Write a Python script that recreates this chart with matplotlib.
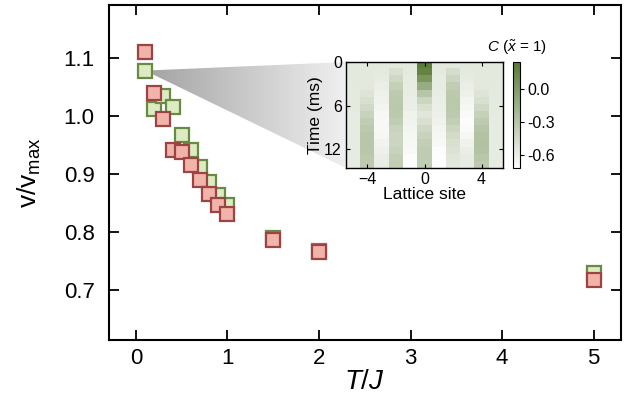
#!/usr/bin/env python3
"""Velocity vs temperature with inset correlation map."""

import numpy as np
import matplotlib
matplotlib.use("Agg")
import matplotlib.pyplot as plt
from matplotlib.colors import LinearSegmentedColormap
from matplotlib.patches import Polygon

plt.rcParams['font.family'] = ['Liberation Sans', 'DejaVu Sans']
plt.rcParams['mathtext.fontset'] = 'custom'
plt.rcParams['mathtext.rm'] = 'Liberation Sans'
plt.rcParams['mathtext.it'] = 'Liberation Sans:italic'

# main data: T/J and v/v_max for the two data sets
T_vals = [0.1, 0.2, 0.3, 0.4, 0.5, 0.6, 0.7, 0.8, 0.9, 1.0, 1.5, 2.0, 5.0]
v_green = [1.078, 1.012, 1.035, 1.015, 0.967, 0.941, 0.912, 0.886, 0.864, 0.846, 0.789, 0.767, 0.730]
v_red = [1.110, 1.039, 0.995, 0.942, 0.937, 0.915, 0.889, 0.866, 0.846, 0.831, 0.787, 0.765, 0.718]

x_ticks = [0, 1, 2, 3, 4, 5]
y_ticks = [0.7, 0.8, 0.9, 1.0, 1.1]

# inset: correlation C(x~=1), rows = time (ms), columns = lattice site -5..5
sites = [-5, -4, -3, -2, -1, 0, 1, 2, 3, 4, 5]
times = [0, 1, 2, 3, 4, 5, 6, 7, 8, 9, 10, 11, 12, 13, 14]
corr_map = [
    [-0.56, -0.56, -0.56, -0.56, -0.56, 0.22, -0.56, -0.56, -0.56, -0.56, -0.56],
    [-0.56, -0.56, -0.57, -0.50, -0.57, 0.18, -0.57, -0.48, -0.57, -0.56, -0.56],
    [-0.56, -0.56, -0.58, -0.44, -0.58, 0.05, -0.58, -0.42, -0.58, -0.56, -0.56],
    [-0.57, -0.55, -0.60, -0.38, -0.58, -0.12, -0.58, -0.36, -0.60, -0.55, -0.57],
    [-0.57, -0.53, -0.62, -0.34, -0.59, -0.30, -0.59, -0.33, -0.62, -0.53, -0.57],
    [-0.57, -0.49, -0.63, -0.32, -0.60, -0.42, -0.60, -0.32, -0.65, -0.49, -0.57],
    [-0.57, -0.45, -0.65, -0.32, -0.61, -0.50, -0.61, -0.32, -0.67, -0.44, -0.57],
    [-0.58, -0.40, -0.67, -0.33, -0.63, -0.54, -0.62, -0.34, -0.69, -0.39, -0.58],
    [-0.58, -0.36, -0.68, -0.36, -0.64, -0.50, -0.63, -0.37, -0.70, -0.34, -0.58],
    [-0.58, -0.33, -0.68, -0.40, -0.65, -0.44, -0.65, -0.42, -0.69, -0.30, -0.58],
    [-0.58, -0.31, -0.66, -0.42, -0.66, -0.40, -0.66, -0.46, -0.66, -0.28, -0.58],
    [-0.58, -0.31, -0.64, -0.42, -0.67, -0.37, -0.68, -0.50, -0.63, -0.27, -0.58],
    [-0.58, -0.31, -0.62, -0.40, -0.68, -0.35, -0.70, -0.52, -0.60, -0.28, -0.58],
    [-0.58, -0.33, -0.60, -0.37, -0.70, -0.35, -0.71, -0.54, -0.58, -0.31, -0.58],
    [-0.58, -0.34, -0.59, -0.36, -0.70, -0.36, -0.71, -0.55, -0.58, -0.34, -0.58],
]
cbar_ticks = [0.0, -0.3, -0.6]

RED_FACE, RED_EDGE = '#f2b3ab', '#9c4444'
GREEN_FACE, GREEN_EDGE = '#dcebc2', '#688a45'


def main():
    fig = plt.figure(figsize=(6.33, 4.01), dpi=100)
    ax = fig.add_axes([108.5 / 633, 1 - 340 / 401, (621 - 108.5) / 633, 335 / 401])
    inset_rect = [346 / 633, 1 - 168 / 401, 157 / 633, 106 / 401]
    axi = fig.add_axes(inset_rect)
    cax = fig.add_axes([513 / 633, inset_rect[1], 7 / 633, inset_rect[3]])

    xlim, ylim = (-0.3, 5.3), (0.614, 1.191)

    # main scatter
    ax.plot(T_vals, v_green, 's', ms=10.5, mfc=GREEN_FACE, mec=GREEN_EDGE, mew=1.6, zorder=4)
    ax.plot(T_vals, v_red, 's', ms=10.5, mfc=RED_FACE, mec=RED_EDGE, mew=1.6, zorder=5)
    ax.set_xlim(*xlim)
    ax.set_ylim(*ylim)
    ax.set_xticks(x_ticks)
    ax.set_yticks(y_ticks)
    ax.set_yticklabels([f'{y:.1f}' for y in y_ticks])
    ax.tick_params(direction='in', top=True, right=True, length=7, width=1.3, labelsize=16)
    ax.tick_params(axis='y', pad=10)
    ax.tick_params(axis='x', pad=6)
    for s in ax.spines.values():
        s.set_linewidth(1.5)
    ax.set_xlabel('$T/J$', fontsize=20, labelpad=0)
    ax.set_ylabel(r'v/v$_{\rm max}$', fontsize=19, labelpad=15)

    # gray cone from the first green point to the inset
    inv = ax.transData.inverted()
    top = inv.transform(fig.transFigure.transform((inset_rect[0], inset_rect[1] + inset_rect[3])))
    bot = inv.transform(fig.transFigure.transform((inset_rect[0], inset_rect[1])))
    apex = (T_vals[0], v_green[0])
    cone = Polygon([apex, top, bot], closed=True, facecolor='none', edgecolor='none')
    ax.add_patch(cone)
    grad = np.linspace(0.0, 1.0, 256).reshape(1, -1)
    cone_cmap = LinearSegmentedColormap.from_list('cone', ['#a2a2a2', '#f0f0f0'])
    img = ax.imshow(grad, cmap=cone_cmap, aspect='auto',
                    extent=(apex[0], top[0], bot[1], top[1]), zorder=1,
                    interpolation='bilinear')
    img.set_clip_path(cone)
    ax.set_xlim(*xlim)
    ax.set_ylim(*ylim)

    # inset heatmap
    cmap = LinearSegmentedColormap.from_list('wg', ['#ffffff', '#587a34'], N=256)
    data = np.array(corr_map)
    im = axi.imshow(data, cmap=cmap, vmin=-0.72, vmax=0.25, aspect='auto',
                    interpolation='nearest',
                    extent=(sites[0] - 0.5, sites[-1] + 0.5, times[-1] + 0.6, times[0]))
    axi.set_xticks([-4, 0, 4])
    axi.set_yticks([0, 6, 12])
    axi.tick_params(direction='in', top=True, right=True, length=3, width=0.8,
                    labelsize=11.5, pad=3)
    for s in axi.spines.values():
        s.set_linewidth(1.0)
    axi.set_xlabel('Lattice site', fontsize=12.5, labelpad=0)
    axi.set_ylabel('Time (ms)', fontsize=12.5, labelpad=1)

    cb = fig.colorbar(im, cax=cax)
    cb.set_ticks(cbar_ticks)
    cb.set_ticklabels([f'{t:.1f}' for t in cbar_ticks])
    cax.tick_params(labelsize=11.5, length=3, width=0.8, direction='out', pad=2)
    cb.outline.set_linewidth(0.8)
    cax.text(0.5, 1.05, r'$C$ ($\tilde{x}$ = 1)', transform=cax.transAxes,
             ha='center', va='bottom', fontsize=11)

    fig.savefig('out.png', dpi=100)
    plt.close(fig)


if __name__ == "__main__":
    main()
